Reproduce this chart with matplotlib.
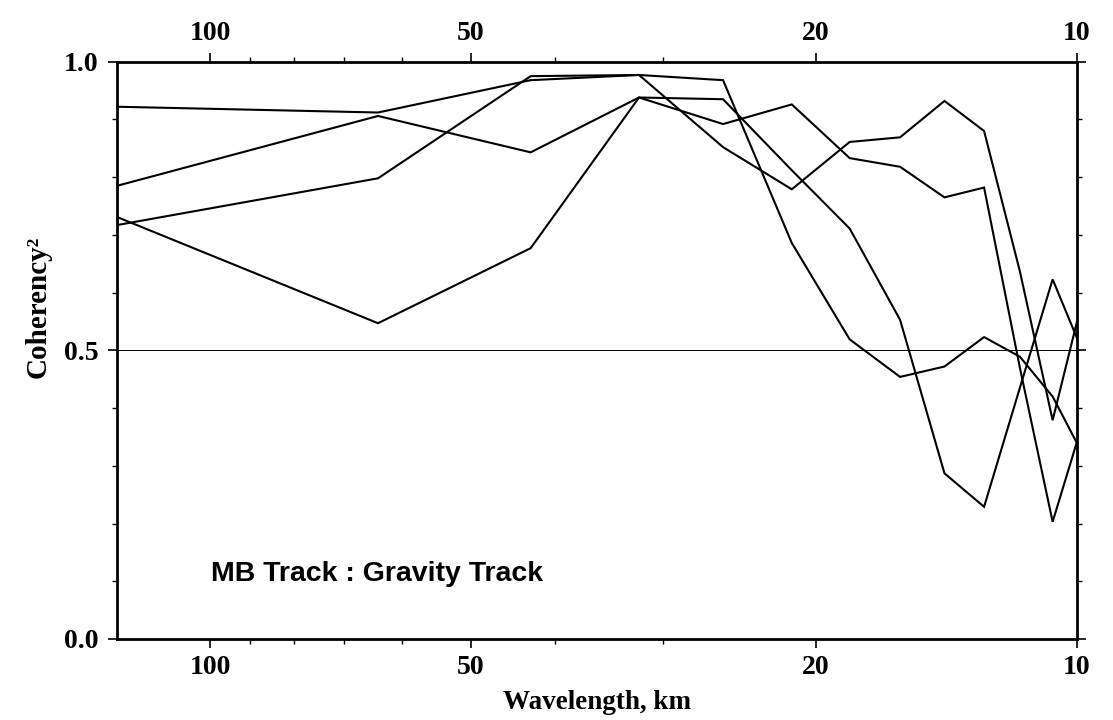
import matplotlib
matplotlib.use("Agg")
import matplotlib.pyplot as plt
from matplotlib.ticker import FixedLocator, FixedFormatter, NullFormatter

# wavelengths (km) of the spectral estimates
wavelength = [128, 64, 42.67, 32, 25.6, 21.33, 18.29, 16, 14.22, 12.8, 11.64, 10.67, 10]

# coherency^2 for the four track pairs
coh_1 = [0.922, 0.912, 0.968, 0.977, 0.968, 0.686, 0.519, 0.454, 0.472, 0.523, 0.489, 0.420, 0.339]
coh_2 = [0.785, 0.906, 0.843, 0.938, 0.935, 0.812, 0.711, 0.553, 0.287, 0.229, 0.435, 0.623, 0.521]
coh_3 = [0.717, 0.798, 0.975, 0.977, 0.852, 0.779, 0.861, 0.869, 0.932, 0.880, 0.637, 0.379, 0.550]
coh_4 = [0.731, 0.547, 0.677, 0.938, 0.892, 0.926, 0.833, 0.818, 0.765, 0.782, 0.470, 0.203, 0.342]

x_major = [100, 50, 20, 10]
x_major_labels = ["100", "50", "20", "10"]
x_minor = [90, 80, 70, 60, 40, 30]
y_major = [0.0, 0.5, 1.0]
y_major_labels = ["0.0", "0.5", "1.0"]
y_minor = [0.1, 0.2, 0.3, 0.4, 0.6, 0.7, 0.8, 0.9]

serif = "Liberation Serif"

fig = plt.figure(figsize=(11.13, 7.2), dpi=100)
ax = fig.add_axes([0.1051, 0.1125, 0.8626, 0.8018])

for c in (coh_1, coh_2, coh_3, coh_4):
    ax.plot(wavelength, c, color="black", lw=1.5, solid_joinstyle="miter")

ax.axhline(0.5, color="black", lw=0.7)

ax.set_xscale("log")
ax.set_xlim(128, 10)
ax.set_ylim(0, 1)

ax.xaxis.set_major_locator(FixedLocator(x_major))
ax.xaxis.set_major_formatter(FixedFormatter(x_major_labels))
ax.xaxis.set_minor_locator(FixedLocator(x_minor))
ax.xaxis.set_minor_formatter(NullFormatter())
ax.yaxis.set_major_locator(FixedLocator(y_major))
ax.yaxis.set_major_formatter(FixedFormatter(y_major_labels))
ax.yaxis.set_minor_locator(FixedLocator(y_minor))

for s in ax.spines.values():
    s.set_linewidth(2.0)

ax.tick_params(which="major", direction="out", length=6.5, width=1.2,
               top=True, right=True, labeltop=True, labelbottom=True,
               labelsize=20, pad=5)
ax.tick_params(which="minor", direction="out", length=3.5, width=1.0,
               top=True, right=True)
ax.tick_params(axis="y", which="major", pad=7)

for lab in ax.get_xticklabels() + ax.get_yticklabels():
    lab.set_fontfamily(serif)
    lab.set_fontweight("bold")
for t in ax.xaxis.get_major_ticks():
    t.label2.set_fontfamily(serif)
    t.label2.set_fontweight("bold")

ax.set_xlabel("Wavelength, km", fontfamily=serif, fontweight="bold",
              fontsize=19.5, labelpad=7)
ax.set_ylabel("Coherency²", fontfamily=serif, fontweight="bold", fontsize=21)
ax.yaxis.set_label_coords(-0.068, 0.575)

ax.text(0.098, 0.1, "MB Track : Gravity Track", transform=ax.transAxes,
        fontfamily="Liberation Sans", fontweight="bold", fontsize=20.5,
        ha="left", va="baseline")

fig.savefig("out.png", dpi=100)
